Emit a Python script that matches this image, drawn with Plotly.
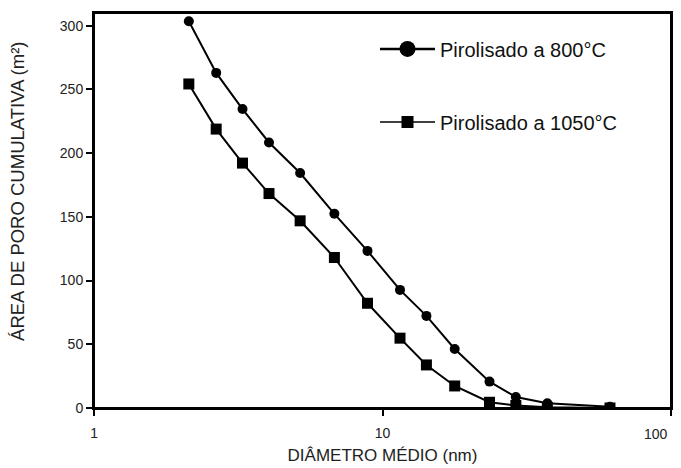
import plotly.graph_objects as go

# Data
diam_800 = [2.13, 2.65, 3.27, 4.04, 5.18, 6.81, 8.87, 11.5, 14.2, 17.8, 23.5, 29.0, 37.3, 61.5]
area_800 = [303.5, 263, 234.6, 208.4, 184.4, 152.4, 123.3, 92.7, 72.3, 46.3, 20.7, 8.6, 3.7, 1.0]

diam_1050 = [2.13, 2.65, 3.27, 4.04, 5.18, 6.81, 8.87, 11.5, 14.2, 17.8, 23.5, 29.0, 37.3, 61.5]
area_1050 = [254.3, 218.9, 192.2, 168.3, 146.9, 118.1, 82.2, 54.8, 33.8, 17.3, 4.5, 2.0, 0.5, 0.0]

series_names = ["Pirolisado a 800°C", "Pirolisado a 1050°C"]
x_ticks = [1, 10, 100]
x_tick_text = ["1", "10", "100"]
y_ticks = [0, 50, 100, 150, 200, 250, 300]
x_title = "DIÂMETRO MÉDIO (nm)"
y_title = "ÁREA DE PORO CUMULATIVA (m²)"

FONT = "Liberation Sans, Arial, sans-serif"
X_RANGE = [-0.0005, 2.0005]
Y_RANGE = [0, 310]

fig = go.Figure()
fig.add_trace(go.Scatter(x=diam_800, y=area_800, mode="lines+markers",
                         line=dict(color="black", width=2),
                         marker=dict(symbol="circle", size=10, color="black"),
                         showlegend=False))
fig.add_trace(go.Scatter(x=diam_1050, y=area_1050, mode="lines+markers",
                         line=dict(color="black", width=2),
                         marker=dict(symbol="square", size=11, color="black"),
                         showlegend=False))
# legend entries
fig.add_trace(go.Scatter(x=[None], y=[None], mode="lines+markers", name=series_names[0],
                         line=dict(color="black", width=2.5),
                         marker=dict(symbol="circle", size=16, color="black"),
                         legend="legend"))
fig.add_trace(go.Scatter(x=[None], y=[None], mode="lines+markers", name=series_names[1],
                         line=dict(color="black", width=1.5),
                         marker=dict(symbol="square", size=12, color="black"),
                         legend="legend2"))

tickfont = dict(family=FONT, size=14, color="#222")
axis_common = dict(showline=True, linecolor="black", linewidth=2, mirror=True,
                   showgrid=False, zeroline=False, ticks="outside", ticklen=6,
                   tickwidth=1.5, tickcolor="black", automargin=False,
                   tickfont=tickfont)

fig.update_layout(
    width=681, height=468,
    margin=dict(l=94, r=10, t=13, b=60),
    paper_bgcolor="white", plot_bgcolor="white",
    xaxis=dict(type="log", range=X_RANGE, tickvals=x_ticks,
               ticktext=[x_tick_text[0], x_tick_text[1], ""],
               ticklabelstandoff=5, ticklabeloverflow="allow",
               title=dict(text=x_title, font=dict(family=FONT, size=17, color="#222"),
                          standoff=9),
               **axis_common),
    yaxis=dict(range=Y_RANGE, tickvals=y_ticks, **axis_common),
    # overlay axis: inner half of the crossing x ticks
    xaxis2=dict(type="log", range=X_RANGE, overlaying="x", side="bottom", anchor="y",
                tickvals=x_ticks, showticklabels=False,
                ticks="inside", ticklen=6, automargin=False,
                tickwidth=1.5, tickcolor="black", showgrid=False, zeroline=False, showline=False),
    legend=dict(x=0.487, y=0.909, xanchor="left", yanchor="middle", bgcolor="rgba(0,0,0,0)",
                itemwidth=55, font=dict(family=FONT, size=20, color="#111")),
    legend2=dict(x=0.487, y=0.724, xanchor="left", yanchor="middle", bgcolor="rgba(0,0,0,0)",
                 itemwidth=55, font=dict(family=FONT, size=20, color="#111")),
    shapes=[dict(type="rect", xref="paper", yref="paper", x0=0, x1=1, y0=0, y1=1,
                 line=dict(color="black", width=2), layer="above")],
    annotations=[
        # right-most x tick label, kept inside the page like in the reference
        dict(text=x_tick_text[2], x=2, xref="x", y=0, yref="paper",
             xanchor="right", yanchor="top", xshift=-1, yshift=-16,
             showarrow=False, font=tickfont),
        # y-axis title
        dict(text=y_title, textangle=-90, x=-0.1317, xref="paper", y=0.547, yref="paper",
             xanchor="center", yanchor="middle", showarrow=False,
             font=dict(family=FONT, size=18.5, color="#222")),
    ],
)

fig.write_html("out.html", config={"displayModeBar": False},
               post_script="document.body.style.margin='0';document.body.style.padding='0';"
                           "document.body.style.overflow='hidden';"
                           "document.documentElement.style.overflow='hidden';")
